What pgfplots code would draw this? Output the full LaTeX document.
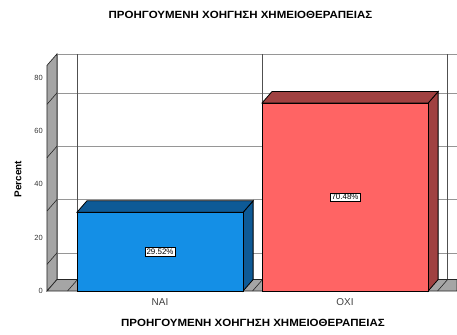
\documentclass[border=0pt]{standalone}
\usepackage{fontspec}
\setmainfont{Liberation Sans}
\newfontfamily\titlefont[FakeStretch=1.1]{Liberation Sans Bold}
\usepackage{pgfplots}
\pgfplotsset{compat=1.18}
\definecolor{wallgray}{RGB}{165,165,165}
\definecolor{gridgray}{RGB}{150,150,150}
\definecolor{vgrid}{RGB}{80,80,80}
\definecolor{naifront}{RGB}{20,143,230}
\definecolor{naidark}{RGB}{14,90,150}
\definecolor{oxifront}{RGB}{255,100,100}
\definecolor{oxidark}{RGB}{160,65,65}
\begin{document}
\begin{tikzpicture}
\begin{axis}[
  name=ax,
  scale only axis,
  width=410bp, height=237.07bp,
  xmin=-0.611, xmax=1.605,
  ymin=0, ymax=88.9,
  clip=false,
  separate axis lines,
  axis line style={draw=none},
  major tick length=0pt,
  tick style={draw=none},
  xtick={0,1},
  xticklabels={NAI,OXI},
  ytick={0,20,40,60,80},
  /pgf/number format/assume math mode=true,
  x tick label style={font=\fontsize{10}{11}\selectfont, text=black!75, anchor=north, inner sep=0pt, yshift=-7bp},
  y tick label style={font=\fontsize{7.5}{8}\selectfont, text=black!80, anchor=east, inner sep=0pt, xshift=-4bp},
]
% back wall
\addplot[fill=white, draw=gridgray, line width=0.6bp] coordinates {(-0.557,4.3) (1.605,4.3) (1.605,88.9) (-0.557,88.9)} -- cycle;
% horizontal gridlines on back wall
\addplot[draw=gridgray, line width=0.6bp] coordinates {(-0.557,14.3) (1.605,14.3)};
\addplot[draw=gridgray, line width=0.6bp] coordinates {(-0.557,34.3) (1.605,34.3)};
\addplot[draw=gridgray, line width=0.6bp] coordinates {(-0.557,54.3) (1.605,54.3)};
\addplot[draw=gridgray, line width=0.6bp] coordinates {(-0.557,74.3) (1.605,74.3)};
% vertical lines on back wall
\addplot[draw=vgrid, line width=0.6bp] coordinates {(-0.446,4.3) (-0.446,88.9)};
\addplot[draw=vgrid, line width=0.6bp] coordinates {(0.554,4.3) (0.554,88.9)};
\addplot[draw=vgrid, line width=0.6bp] coordinates {(1.554,4.3) (1.554,88.9)};
% left wall
\addplot[fill=wallgray, draw=black!85, line width=0.7bp] coordinates {(-0.611,0) (-0.611,84.6) (-0.557,88.9) (-0.557,4.3)} -- cycle;
\addplot[draw=black!85, line width=0.6bp] coordinates {(-0.611,10) (-0.557,14.3)};
\addplot[draw=black!85, line width=0.6bp] coordinates {(-0.611,30) (-0.557,34.3)};
\addplot[draw=black!85, line width=0.6bp] coordinates {(-0.611,50) (-0.557,54.3)};
\addplot[draw=black!85, line width=0.6bp] coordinates {(-0.611,70) (-0.557,74.3)};
% floor
\addplot[fill=wallgray, draw=black!85, line width=0.7bp] coordinates {(-0.611,0) (1.605,0) (1.605,4.3) (-0.557,4.3)} -- cycle;
\addplot[draw=black!85, line width=0.6bp] coordinates {(-0.5,0) (-0.446,4.3)};
\addplot[draw=black!85, line width=0.6bp] coordinates {(0.5,0) (0.554,4.3)};
\addplot[draw=black!85, line width=0.6bp] coordinates {(1.5,0) (1.554,4.3)};
% NAI bar
\addplot[fill=naidark, draw=black, line width=0.8bp] coordinates {(0.449,0) (0.503,4.3) (0.503,33.82) (0.449,29.52)} -- cycle;
\addplot[fill=naidark, draw=black, line width=0.8bp] coordinates {(-0.449,29.52) (0.449,29.52) (0.503,33.82) (-0.395,33.82)} -- cycle;
\addplot[fill=naifront, draw=black, line width=0.8bp] coordinates {(-0.449,0) (0.449,0) (0.449,29.52) (-0.449,29.52)} -- cycle;
% OXI bar
\addplot[fill=oxidark, draw=black, line width=0.8bp] coordinates {(1.449,0) (1.503,4.3) (1.503,74.78) (1.449,70.48)} -- cycle;
\addplot[fill=oxidark, draw=black, line width=0.8bp] coordinates {(0.551,70.48) (1.449,70.48) (1.503,74.78) (0.605,74.78)} -- cycle;
\addplot[fill=oxifront, draw=black, line width=0.8bp] coordinates {(0.551,0) (1.449,0) (1.449,70.48) (0.551,70.48)} -- cycle;
% value labels
\node[draw=black, fill=white, line width=0.5bp, inner sep=1.3bp, font=\fontsize{8}{9}\selectfont] at (axis cs:0,14.76) {29.52\%};
\node[draw=black, fill=white, line width=0.5bp, inner sep=1.3bp, font=\fontsize{8}{9}\selectfont] at (axis cs:1,35.24) {70.48\%};
\end{axis}
\node[font=\titlefont\fontsize{10.5}{12}\selectfont] at ([xshift=193.5bp,yshift=276bp]ax.south west) {ΠΡΟΗΓΟΥΜΕΝΗ ΧΟΗΓΗΣΗ ΧΗΜΕΙΟΘΕΡΑΠΕΙΑΣ};
\node[font=\titlefont\fontsize{10.5}{12}\selectfont] at ([xshift=206bp,yshift=-32bp]ax.south west) {ΠΡΟΗΓΟΥΜΕΝΗ ΧΟΗΓΗΣΗ ΧΗΜΕΙΟΘΕΡΑΠΕΙΑΣ};
\node[font=\bfseries\fontsize{10}{11}\selectfont, rotate=90] at ([xshift=-29bp,yshift=112bp]ax.south west) {Percent};
\pgfresetboundingbox
\useasboundingbox ([xshift=-47bp,yshift=-44bp]ax.south west) rectangle ([yshift=291bp]ax.south east);
\end{tikzpicture}
\end{document}
